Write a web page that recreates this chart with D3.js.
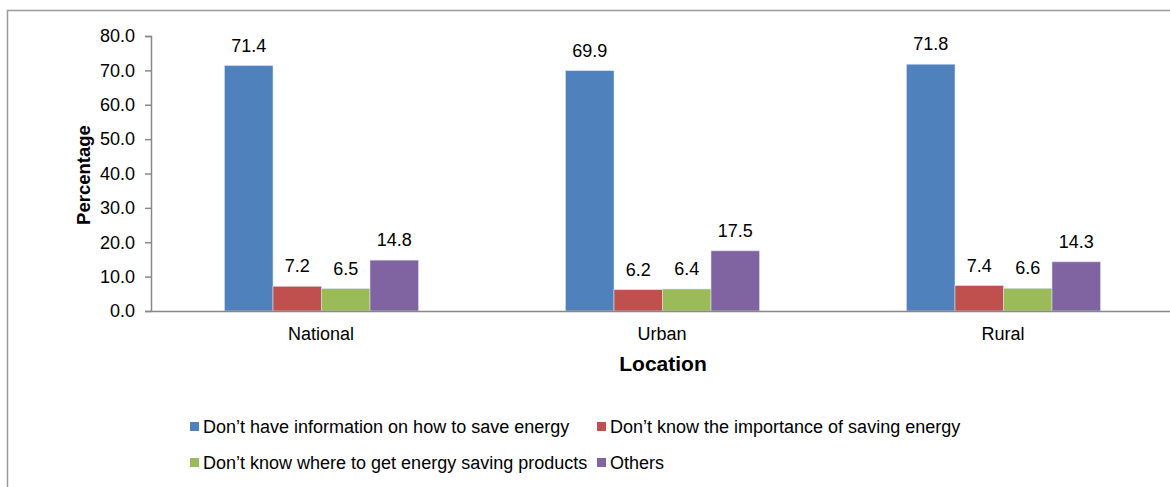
<!DOCTYPE html>
<html><head><meta charset="utf-8">
<script src="https://cdn.jsdelivr.net/npm/d3@7"></script>
<style>body{margin:0;background:#fff}svg{display:block;font-family:"Liberation Sans",Arial,sans-serif}</style>
</head><body><svg id="c" width="1170" height="487"></svg>
<script>
const categories = ["National", "Urban", "Rural"];
const seriesNames = ["Don\u2019t have information on how to save energy", "Don\u2019t know the importance of saving energy", "Don\u2019t know where to get energy saving products", "Others"];
const noInfo = [71.4, 69.9, 71.8];
const noImportance = [7.2, 6.2, 7.4];
const noWhere = [6.5, 6.4, 6.6];
const others = [14.8, 17.5, 14.3];
const yTicks = [0, 10, 20, 30, 40, 50, 60, 70, 80];
const colors = ["#4F81BD", "#C0504D", "#9BBB59", "#8064A2"];
const seriesValues = [noInfo, noImportance, noWhere, others];

const svg = d3.select("#c");
// outer frame
svg.append("rect").attr("x", 7.5).attr("y", 10.5).attr("width", 1200).attr("height", 600)
  .attr("fill", "none").attr("stroke", "#9a9a9a").attr("stroke-width", 1.5);

const x0 = 151, x1 = 1174, yTop = 36, yBot = 311;
const x = d3.scaleBand().domain(categories).range([x0, x1]).paddingInner(0).paddingOuter(0);
const y = d3.scaleLinear().domain([0, 80]).range([yBot, yTop]);
const groupW = 194;
const xs = d3.scaleBand().domain(d3.range(4)).range([0, groupW]).padding(0);

// y axis
const ya = svg.append("g").attr("transform", `translate(${x0},0)`)
  .call(d3.axisLeft(y).tickValues(yTicks).tickFormat(d3.format(".1f")).tickSizeOuter(0).tickSize(6).tickPadding(10));
ya.select(".domain").attr("stroke", "#888").attr("stroke-width", 1.5);
ya.selectAll(".tick line").attr("stroke", "#888").attr("stroke-width", 1.5);
ya.selectAll(".tick text").attr("font-size", 18).attr("fill", "#000").attr("font-family", "Liberation Sans, Arial, sans-serif");

// bars
seriesValues.forEach((vals, si) => {
  svg.append("g").selectAll("rect").data(vals).join("rect")
    .attr("x", (d, i) => x(categories[i]) + (x.bandwidth() - groupW) / 2 + xs(si))
    .attr("y", d => y(d))
    .attr("width", xs.bandwidth())
    .attr("height", d => y(0) - y(d))
    .attr("fill", colors[si])
    .attr("stroke", "#d8e0ea").attr("stroke-width", 0.6);
  svg.append("g").selectAll("text").data(vals).join("text")
    .attr("x", (d, i) => x(categories[i]) + (x.bandwidth() - groupW) / 2 + xs(si) + xs.bandwidth() / 2)
    .attr("y", d => y(d) - 14)
    .attr("text-anchor", "middle").attr("font-size", 18).attr("fill", "#000")
    .text(d => d.toFixed(1));
});

// x axis
const xa = svg.append("g").attr("transform", `translate(0,${yBot})`)
  .call(d3.axisBottom(x).tickSize(0).tickPadding(16));
xa.select(".domain").attr("stroke", "#888").attr("stroke-width", 1.5);
xa.selectAll(".tick text").attr("font-size", 18).attr("fill", "#000").attr("font-family", "Liberation Sans, Arial, sans-serif");
xa.selectAll(".tick").attr("transform", d => `translate(${x(d) + x.bandwidth() / 2 - 0.5},0)`);

// axis titles
svg.append("text").attr("x", 663).attr("y", 371).attr("text-anchor", "middle")
  .attr("font-size", 21).attr("font-weight", "bold").text("Location");
svg.append("text").attr("transform", "translate(90,175) rotate(-90)").attr("text-anchor", "middle")
  .attr("font-size", 18.5).attr("font-weight", "bold").text("Percentage");

// legend
const legPos = [[190, 427], [597, 427], [190, 463], [597, 463]];
seriesNames.forEach((n, i) => {
  const g = svg.append("g").attr("transform", `translate(${legPos[i][0]},${legPos[i][1]})`);
  g.append("rect").attr("x", 0).attr("y", -5).attr("width", 9).attr("height", 9).attr("fill", colors[i]);
  g.append("text").attr("x", 13).attr("y", 6).attr("font-size", 18).attr("fill", "#000").text(n);
});
</script></body></html>
